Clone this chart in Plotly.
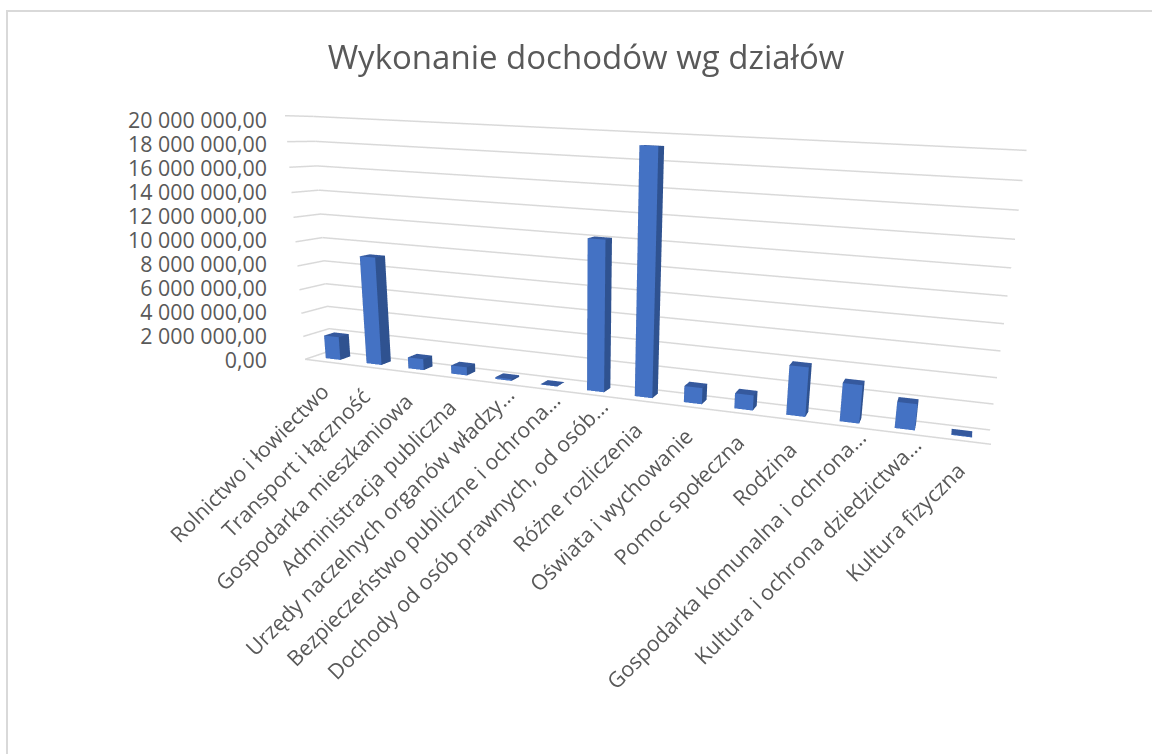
import plotly.graph_objects as go

title = "Wykonanie dochodów wg działów"
categories = ["Rolnictwo i łowiectwo", "Transport i łączność", "Gospodarka mieszkaniowa",
              "Administracja publiczna", "Urzędy naczelnych organów władzy…",
              "Bezpieczeństwo publiczne i ochrona…", "Dochody od osób prawnych, od osób…",
              "Różne rozliczenia", "Oświata i wychowanie", "Pomoc społeczna", "Rodzina",
              "Gospodarka komunalna i ochrona…", "Kultura i ochrona dziedzictwa…", "Kultura fizyczna"]
values = [2000000, 9100000, 950000, 700000, 150000, 30000, 12050000,
          19100000, 1300000, 1200000, 3850000, 2950000, 2000000, 50000]
tick_values = [0, 2000000, 4000000, 6000000, 8000000, 10000000, 12000000, 14000000,
               16000000, 18000000, 20000000]
tick_labels = ["0,00", "2 000 000,00", "4 000 000,00", "6 000 000,00", "8 000 000,00",
               "10 000 000,00", "12 000 000,00", "14 000 000,00", "16 000 000,00",
               "18 000 000,00", "20 000 000,00"]

FONT = "Open Sans"
TEXT = "#595959"
GRID = "#d9d9d9"
FRONT, SIDE, TOP = "#4472c4", "#2f5290", "#35599e"
W, H = 1152, 754
BAR_HALF, DEPTH0, DEPTH1 = 0.18, 0.3, 0.7
NCAT = len(categories)

fig = go.Figure()

# wall gridlines at each tick value, and the front edge of the floor
for v in tick_values:
    fig.add_trace(go.Scatter3d(x=[0, 0, NCAT], y=[0, 1, 1], z=[v, v, v], mode="lines",
                               line=dict(color=GRID, width=3), hoverinfo="skip"))
fig.add_trace(go.Scatter3d(x=[0, NCAT], y=[0, 0], z=[0, 0], mode="lines",
                           line=dict(color=GRID, width=3), hoverinfo="skip"))

# one box per category, sized by its value on the scene axes
for n, (name, v) in enumerate(zip(categories, values)):
    x0, x1 = n + 0.5 - BAR_HALF, n + 0.5 + BAR_HALF
    xs = [x0, x1, x1, x0, x0, x1, x1, x0]
    ys = [DEPTH0, DEPTH0, DEPTH1, DEPTH1, DEPTH0, DEPTH0, DEPTH1, DEPTH1]
    zs = [0, 0, 0, 0, v, v, v, v]
    faces = [(0, 1, 5, FRONT), (0, 5, 4, FRONT), (1, 2, 6, SIDE), (1, 6, 5, SIDE),
             (4, 5, 6, TOP), (4, 6, 7, TOP), (3, 0, 4, SIDE), (3, 4, 7, SIDE),
             (2, 3, 7, SIDE), (2, 7, 6, SIDE)]
    fig.add_trace(go.Mesh3d(
        x=xs, y=ys, z=zs,
        i=[f[0] for f in faces], j=[f[1] for f in faces], k=[f[2] for f in faces],
        facecolor=[f[3] for f in faces], flatshading=True,
        lighting=dict(ambient=1, diffuse=0, specular=0, roughness=1, fresnel=0),
        name=name, hoverinfo="skip", showscale=False))

# invisible trace that brings up the flat value axis
fig.add_trace(go.Scatter(x=[0] * len(tick_values), y=tick_values, mode="markers",
                         marker=dict(opacity=0), hoverinfo="skip", showlegend=False))

def axis3d(**kw):
    base = dict(showbackground=False, showspikes=False, title=dict(text=""),
                zeroline=False, ticks="", showticklabels=False, showgrid=False, showline=False)
    base.update(kw)
    return base

fig.update_layout(
    width=W, height=H, margin=dict(l=0, r=0, t=0, b=0),
    paper_bgcolor="white", plot_bgcolor="rgba(0,0,0,0)", showlegend=False, hovermode=False,
    title=dict(text=title, x=586 / W, xanchor="center", y=1 - 57 / H, yanchor="middle",
               font=dict(family=FONT, size=33, color=TEXT)),
    xaxis=dict(domain=[268 / W, 280 / W], visible=False, range=[0, 1]),
    yaxis=dict(domain=[1 - 360 / H, 1 - 120 / H], range=[0, 20000000], tickvals=tick_values,
               ticktext=tick_labels, showgrid=False, zeroline=False, showline=False, ticks="",
               tickfont=dict(family=FONT, size=21.4, color=TEXT), automargin=False),
    scene=dict(
        domain=dict(x=[284 / W, 1], y=[0, 1]),
        dragmode="orbit",
        xaxis=axis3d(range=[0, NCAT]),
        yaxis=axis3d(range=[0, 1]),
        zaxis=axis3d(range=[0, 20000000], tickvals=tick_values),
        aspectmode="manual", aspectratio=dict(x=2, y=0.1173, z=0.7084),
        camera=dict(eye=dict(x=0.8787, y=-2.3061, z=0.3867),
                    center=dict(x=0.2664, y=0.0366, z=-0.2891),
                    up=dict(x=-0.0439, y=0, z=0.9990),
                    projection=dict(type="perspective")),
        annotations=[dict(x=n + 0.5, y=0, z=0, text=c, showarrow=False, textangle=-45,
                          xanchor="right", yanchor="top",
                          xshift=26 if c.endswith("…") else 12,
                          yshift=6 if c.endswith("…") else -12,
                          font=dict(family=FONT, size=21.4, color=TEXT))
                     for n, c in enumerate(categories)],
    ),
    shapes=[dict(type="rect", xref="paper", yref="paper", x0=7 / W, x1=1.05,
                 y0=-0.05, y1=1 - 11 / H, line=dict(color=GRID, width=2),
                 fillcolor="rgba(0,0,0,0)", layer="below")],
)
fig.write_html("out.html", config=dict(displayModeBar=False),
               post_script="document.body.style.margin='0';")
